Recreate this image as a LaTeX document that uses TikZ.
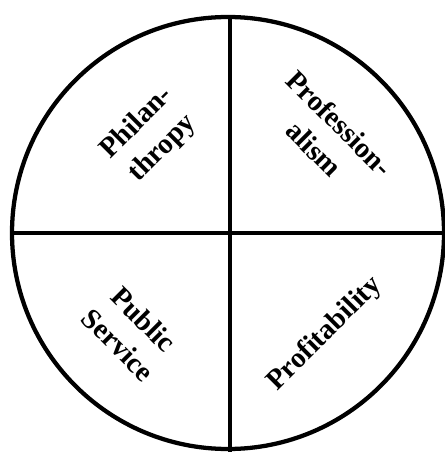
\documentclass[tikz,border=0pt]{standalone}
\usepackage{fontspec}
\setmainfont{Liberation Serif}
\begin{document}
\begin{tikzpicture}[x=0.75pt,y=-0.75pt,
  rim/.style={line width=3.2pt},
  divider/.style={line width=3pt},
  label/.style={font=\bfseries\fontsize{21.5}{27}\selectfont, align=center, inner sep=0pt}]
\useasboundingbox (0,0) rectangle (444,452);
\coordinate (c) at (228,233);
\draw[rim] (c) circle[radius=162pt];
\coordinate (top) at (230,17);
\coordinate (bot) at (230,452);
\coordinate (lft) at (12,233);
\coordinate (rgt) at (444,233);
\draw[divider] (top) -- (bot);
\draw[divider] (lft) -- (rgt);
\node[label, rotate=45] (phil) at (150,136) {Philan-\\thropy};
\node[label, rotate=-45] (prof) at (327,136) {Profession-\\alism};
\node[label, rotate=-45] (pub) at (131,332) {Public\\Service};
\node[label, rotate=45] (profit) at (325,334) {Profitability};
\end{tikzpicture}
\end{document}
